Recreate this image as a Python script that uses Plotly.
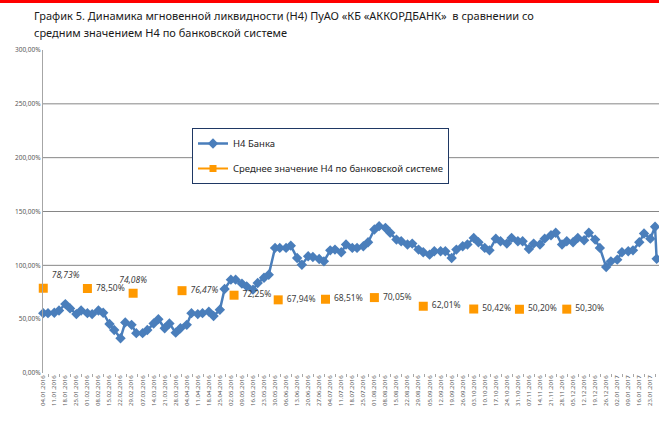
import pandas as pd
import plotly.graph_objects as go

# H4 of the bank, two readings per week (Monday, Thursday), 04.01.2016 .. 26.01.2017,
# plus the last reading on Friday 27.01.2017
h4_bank = [
    55.6, 55.6, 56.0, 58.0, 64.0, 60.0, 54.7, 58.0, 55.6, 54.7,
    58.0, 56.0, 45.5, 40.0, 32.3, 47.0, 44.7, 37.0, 37.0, 40.0,
    46.0, 50.0, 41.6, 46.0, 37.5, 41.6, 44.7, 55.6, 54.7, 55.6,
    57.0, 53.0, 58.7, 78.0, 86.7, 86.7, 83.0, 80.5, 77.4, 83.6,
    88.5, 91.3, 116.2, 116.2, 116.2, 118.3, 106.8, 100.6, 108.4, 107.8,
    105.9, 103.7, 113.9, 114.6, 112.1, 119.3, 116.2, 116.2, 117.7, 121.4,
    133.3, 136.4, 134.8, 130.2, 123.9, 122.4, 119.3, 120.2, 114.6, 112.1,
    109.9, 113.1, 113.1, 113.1, 106.8, 114.6, 117.7, 119.3, 125.5, 121.4,
    116.2, 113.9, 124.8, 122.4, 120.2, 125.5, 122.4, 122.4, 115.2, 120.2,
    119.3, 124.8, 127.9, 130.2, 119.3, 122.4, 121.4, 125.5, 123.3, 130.2,
    123.9, 116.2, 98.4, 103.7, 105.3, 112.1, 113.1, 113.9, 121.4, 129.6,
    124.8, 135.8, 106.0,
]

# average H4 of the banking system, first working day of each month
avg_dates = ['2016-01-04', '2016-02-01', '2016-03-01', '2016-04-01', '2016-05-04', '2016-06-01',
             '2016-07-01', '2016-08-01', '2016-09-01', '2016-10-03', '2016-11-01', '2016-12-01']
avg_values = [78.73, 78.50, 74.08, 76.47, 72.25, 67.94, 68.51, 70.05, 62.01, 59.42, 59.20, 59.30]
avg_labels = ['<i>78,73%</i>', '78,50%', '<i>74,08%</i>', '<i>76,47%</i>', '72,25%', '67,94%',
              '68,51%', '70,05%', '62,01%', '50,42%', '50,20%', '50,30%']
avg_label_pos = ['top right', 'middle right', 'top center', 'middle right', 'middle right',
                 'middle right', 'middle right', 'middle right', 'middle right', 'middle right',
                 'middle right', 'middle right']

# reading dates: Monday and Thursday of every week, then the final Friday
mondays = pd.date_range('2016-01-04', periods=56, freq='7D')
dates = []
for m in mondays:
    dates += [m, m + pd.Timedelta(days=3)]
dates.append(pd.Timestamp('2017-01-27'))

BLUE = '#4a7ebb'
ORANGE = '#ff9900'
GRID = '#868686'
FONT = 'Noto Sans'

fig = go.Figure()

fig.add_trace(go.Scatter(
    x=dates, y=h4_bank, mode='lines+markers', name='Н4 Банка',
    line=dict(color=BLUE, width=2.5),
    marker=dict(symbol='diamond', size=8, color=BLUE),
    legendgroup='a', cliponaxis=False,
))

fig.add_trace(go.Scatter(
    x=avg_dates, y=avg_values, mode='markers', showlegend=False,
    marker=dict(symbol='square', size=9, color=ORANGE),
    cliponaxis=False,
))

# value labels; invisible markers keep the text clear of the squares
fig.add_trace(go.Scatter(
    x=avg_dates, y=avg_values, mode='markers+text', showlegend=False,
    marker=dict(size=12, opacity=0),
    text=avg_labels, textposition=avg_label_pos,
    textfont=dict(family=FONT, size=8.5, color='#404040'),
    hoverinfo='skip', cliponaxis=False,
))

# legend-only entry (line + square, as in the source chart)
fig.add_trace(go.Scatter(
    x=[None], y=[None], mode='lines+markers',
    name='Среднее значение Н4 по банковской системе',
    line=dict(color=ORANGE, width=2),
    marker=dict(symbol='square', size=7, color=ORANGE),
    legendgroup='b',
))

# horizontal gridlines
shapes = []
for g in [100, 150, 200, 250]:
    shapes.append(dict(type='line', xref='paper', yref='y', x0=0, x1=1, y0=g, y1=g,
                       line=dict(color=GRID, width=1), layer='below'))
# red strip on top of the page
shapes.append(dict(type='rect', xref='paper', yref='paper', x0=-43 / 616, x1=1,
                   y0=1 + 47 / 323, y1=1 + 50 / 323, fillcolor='#ff0000',
                   line=dict(width=0)))

fig.update_layout(
    width=659, height=434,
    margin=dict(l=43, r=0, t=50, b=61, autoexpand=False),
    paper_bgcolor='white', plot_bgcolor='white',
    separators=', ',
    font=dict(family=FONT, color='#404040'),
    shapes=shapes,
    annotations=[
        dict(text='График 5. Динамика мгновенной ликвидности (Н4) ПуАО «КБ «АККОРДБАНК»  в сравнении со',
             xref='paper', yref='paper', x=-11 / 616, y=(373 - 16) / 323,
             xanchor='left', yanchor='middle', showarrow=False,
             font=dict(family=FONT, size=11, color='#1a1a1a')),
        dict(text='средним значением Н4 по банковской системе',
             xref='paper', yref='paper', x=-11 / 616, y=(373 - 32) / 323,
             xanchor='left', yanchor='middle', showarrow=False,
             font=dict(family=FONT, size=11, color='#1a1a1a')),
    ],
    xaxis=dict(
        type='date', automargin=False,
        range=['2016-01-03 20:00', '2017-01-28 12:00'],
        tick0='2016-01-04', dtick=7 * 86400000,
        tickformat='%d.%m.%Y', tickangle=-90,
        tickfont=dict(family=FONT, size=6, color='#595959'),
        ticks='', showgrid=False, zeroline=False, showline=False,
        minor=dict(tick0='2016-01-07 12:00', dtick=7 * 86400000, ticks='outside',
                   ticklen=3, tickcolor='#a6a6a6', showgrid=False),
    ),
    yaxis=dict(
        automargin=False,
        range=[0, 300], dtick=50, tickformat='.2f', ticksuffix='%',
        tickfont=dict(family=FONT, size=6.5, color='#595959'),
        showgrid=False, zeroline=False,
        showline=True, linecolor='#a6a6a6', linewidth=1, ticks='',
    ),
    legend=dict(
        x=(192 - 43) / 616, y=(373 - 128) / 323, xanchor='left', yanchor='top',
        bgcolor='white', bordercolor='#1f3864', borderwidth=1,
        font=dict(family=FONT, size=9.5, color='#262626'),
        tracegroupgap=6,
    ),
)

# the page body has a default 8px margin; drop it so the figure starts at the corner
fig.write_html('out.html', config={'displayModeBar': False},
               post_script="document.body.style.margin='0';")
